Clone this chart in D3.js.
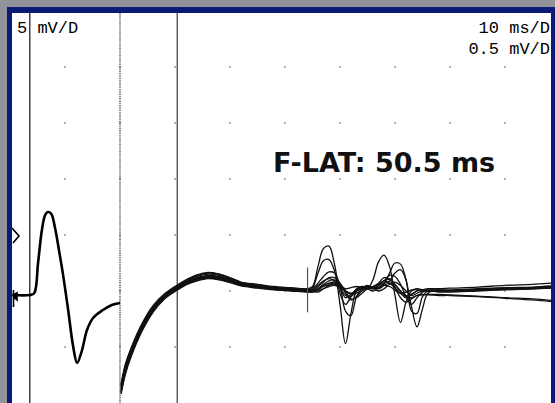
<!DOCTYPE html>
<html><head><meta charset="utf-8">
<script src="https://cdn.jsdelivr.net/npm/d3@7"></script>
<style>html,body{margin:0;padding:0;background:#929398;overflow:hidden}</style>
</head><body>
<svg id="c" width="555" height="403"></svg>
<script>
// ---------- DATA ----------
const sweepMs = [0, 100];               // 10 ms/D, 10 divisions
const gridTimes = [10, 20, 30, 40, 50, 60, 70, 80, 90];
const gridVolts = [-0.5, 0, 0.5, 1.0, 1.5, 2.0]; // 0.5 mV/D
const stimTime = 3.6;
const fLatency = 50.5;
const gainChangeTime = 20;
const cursorTime = 30.4;
const labelLeft = "5 mV/D";
const labelRight1 = "10 ms/D";
const labelRight2 = "0.5 mV/D";
const title = "F-LAT: 50.5 ms";

// CMAP (M-wave) at 5 mV/D
const cmapTimes = [0.4, 3.6, 4.4, 5.1, 5.8, 6.4, 6.9, 7.5, 8.2, 8.9, 9.6, 10.5, 11.5, 12.2, 13.1, 14.0, 15.1, 16.9, 18.5, 20.0];
const cmapValues = [-0.36, -0.36, -0.2, 2.5, 5.45, 6.8, 7.05, 6.9, 5.6, 3.65, 1.6, -1.43, -5.0, -6.43, -5.27, -3.48, -2.41, -1.7, -1.25, -1.07];

// F-wave sweeps at 0.5 mV/D
const fTimes = [20.2, 21, 22, 24, 26, 28, 30, 32, 34, 36, 38, 40, 42, 45, 48, 51, 54,
  55, 56, 57, 58, 59, 60, 61, 62, 63, 64, 65, 66, 67, 68, 69, 70, 71, 72, 73, 74, 75, 76, 78,
  80, 85, 90, 95, 98.5];
const traceA = [-0.83, -0.65, -0.51, -0.29, -0.13, -0.03, 0.04, 0.10, 0.145, 0.165, 0.15, 0.12, 0.08, 0.06, 0.04, 0.03, 0.02,
  0.04, 0.22, 0.38, 0.40, 0.24, -0.02, -0.12, -0.05, 0.02, 0.04, 0.03, 0.02, 0.03, 0.05, 0.04, 0.01, -0.02, -0.01, 0.01, 0.01, 0.0, 0.0, 0.0,
  0.0, 0.01, 0.02, 0.03, 0.04];
const traceB = [-0.85, -0.67, -0.53, -0.31, -0.15, -0.045, 0.03, 0.09, 0.13, 0.15, 0.14, 0.11, 0.07, 0.05, 0.035, 0.025, 0.015,
  0.03, 0.16, 0.27, 0.28, 0.18, -0.12, -0.47, -0.2, 0.0, 0.03, 0.05, 0.03, 0.0, 0.02, 0.06, 0.08, 0.05, 0.0, -0.04, -0.02, 0.0, 0.01, 0.01,
  0.01, 0.02, 0.03, 0.035, 0.045];
const traceC = [-0.86, -0.68, -0.54, -0.32, -0.16, -0.05, 0.02, 0.085, 0.12, 0.14, 0.13, 0.10, 0.065, 0.045, 0.03, 0.02, 0.01,
  0.02, 0.07, 0.13, 0.17, 0.16, 0.05, -0.18, -0.22, -0.05, 0.02, 0.04, 0.02, 0.05, 0.09, 0.07, 0.03, -0.02, -0.06, -0.03, 0.0, 0.01, 0.0, 0.0,
  0.0, 0.015, 0.025, 0.03, 0.035];
const traceD = [-0.88, -0.70, -0.55, -0.33, -0.165, -0.06, 0.015, 0.075, 0.11, 0.13, 0.12, 0.095, 0.06, 0.04, 0.025, 0.015, 0.005,
  0.0, 0.04, 0.08, 0.12, 0.12, 0.07, 0.0, -0.07, -0.06, -0.02, 0.02, 0.04, 0.05, 0.09, 0.14, 0.13, 0.06, -0.05, -0.12, -0.06, -0.01, 0.0, 0.0,
  0.0, 0.01, 0.02, 0.03, 0.03];
const traceE = [-0.87, -0.69, -0.545, -0.32, -0.16, -0.055, 0.02, 0.08, 0.115, 0.13, 0.125, 0.10, 0.065, 0.045, 0.03, 0.02, 0.01,
  0.0, 0.02, 0.05, 0.07, 0.08, 0.05, 0.02, 0.03, 0.04, 0.03, 0.02, 0.10, 0.26, 0.32, 0.22, -0.04, -0.28, -0.10, 0.0, 0.02, 0.01, 0.0, 0.0,
  0.0, 0.01, 0.02, 0.025, 0.03];
const traceF = [-0.89, -0.71, -0.56, -0.335, -0.17, -0.06, 0.01, 0.07, 0.105, 0.125, 0.115, 0.09, 0.06, 0.04, 0.025, 0.015, 0.005,
  0.0, 0.01, 0.04, 0.06, 0.07, 0.04, 0.0, -0.02, 0.0, 0.03, 0.04, 0.03, 0.03, 0.06, 0.16, 0.25, 0.24, 0.10, -0.14, -0.32, -0.16, -0.02, 0.01,
  0.0, 0.005, 0.015, 0.02, 0.03];
const traceG = [-0.9, -0.72, -0.57, -0.34, -0.175, -0.065, 0.005, 0.065, 0.10, 0.12, 0.11, 0.085, 0.055, 0.035, 0.02, 0.01, 0.0,
  0.0, -0.01, 0.02, 0.05, 0.06, 0.02, -0.06, -0.03, 0.01, 0.03, 0.02, 0.0, 0.03, 0.07, 0.09, 0.16, 0.19, 0.10, -0.18, -0.2, -0.05, 0.0, -0.01,
  -0.01, 0.0, 0.01, 0.02, 0.025];
const traceH = [-0.91, -0.73, -0.58, -0.35, -0.18, -0.07, 0.0, 0.06, 0.095, 0.115, 0.105, 0.08, 0.05, 0.03, 0.015, 0.005, -0.005,
  -0.01, 0.02, 0.06, 0.09, 0.10, 0.06, -0.02, -0.08, -0.05, 0.0, 0.02, 0.04, 0.07, 0.12, 0.10, 0.03, -0.06, -0.10, -0.07, -0.04, -0.03, -0.03, -0.03,
  -0.035, -0.045, -0.06, -0.07, -0.085];
const traceI = [-0.92, -0.74, -0.59, -0.36, -0.19, -0.075, -0.005, 0.055, 0.09, 0.11, 0.10, 0.075, 0.045, 0.025, 0.01, 0.0, -0.01,
  -0.01, 0.0, 0.02, 0.04, 0.05, 0.03, 0.0, -0.03, -0.02, 0.01, 0.04, 0.03, 0.02, 0.05, 0.07, 0.05, 0.0, -0.05, -0.06, -0.04, -0.035, -0.035, -0.04,
  -0.04, -0.05, -0.065, -0.08, -0.095];
const traceJ = [-0.84, -0.66, -0.52, -0.30, -0.14, -0.04, 0.035, 0.095, 0.14, 0.16, 0.15, 0.115, 0.075, 0.055, 0.035, 0.025, 0.015,
  0.01, 0.05, 0.09, 0.11, 0.09, 0.03, -0.04, -0.05, 0.0, 0.02, 0.03, 0.04, 0.06, 0.09, 0.11, 0.06, 0.0, -0.04, -0.03, 0.0, 0.01, 0.02, 0.02,
  0.025, 0.035, 0.05, 0.06, 0.07];
const fTraces = [traceA, traceB, traceC, traceD, traceE, traceF, traceG, traceH, traceI, traceJ];

// ---------- DRAW ----------
const W = 555, H = 403;
const svg = d3.select("#c");
const panel = {x0: 12, y0: 13, x1: 551, y1: 403};

svg.append("rect").attr("x", 0).attr("y", 0).attr("width", W).attr("height", H).attr("fill", "#929398");
svg.append("rect").attr("x", 7).attr("y", 7).attr("width", W - 7).attr("height", H).attr("fill", "#0b1a78");
svg.append("rect").attr("x", panel.x0).attr("y", panel.y0)
  .attr("width", panel.x1 - panel.x0).attr("height", panel.y1 - panel.y0).attr("fill", "#ffffff");

svg.append("clipPath").attr("id", "clip").append("rect")
  .attr("x", panel.x0).attr("y", panel.y0).attr("width", panel.x1 - panel.x0).attr("height", panel.y1 - panel.y0);
const g = svg.append("g").attr("clip-path", "url(#clip)");

const x = d3.scaleLinear().domain(sweepMs).range([10, 560]);
const yF = d3.scaleLinear().domain([-1.0, 2.5]).range([403, 11]);
const yC = d3.scaleLinear().domain([-10, 25]).range([403, 11]);

// grid dots
gridTimes.forEach(t => gridVolts.forEach(v => {
  g.append("rect").attr("x", x(t) - 0.75).attr("y", yF(v) - 0.75)
    .attr("width", 1.5).attr("height", 1.5).attr("fill", "#7a7a86");
}));

// vertical markers
g.append("line").attr("x1", x(stimTime)).attr("x2", x(stimTime)).attr("y1", panel.y0).attr("y2", panel.y1)
  .attr("stroke", "#111").attr("stroke-width", 1.2);
g.append("line").attr("x1", x(gainChangeTime)).attr("x2", x(gainChangeTime)).attr("y1", panel.y0).attr("y2", panel.y1)
  .attr("stroke", "#333").attr("stroke-width", 1.1).attr("stroke-dasharray", "1.5,0.8");
g.append("line").attr("x1", x(cursorTime)).attr("x2", x(cursorTime)).attr("y1", panel.y0).attr("y2", panel.y1)
  .attr("stroke", "#111").attr("stroke-width", 1);

// left-edge markers
g.append("path").attr("d", `M12,228 L19,236 L13,243`).attr("fill", "none").attr("stroke", "#000").attr("stroke-width", 1.6);
g.append("path").attr("d", `M13.5,290 L13.5,307 M13.5,295 L17,293 L17,300 L13.5,297`).attr("fill", "#000").attr("stroke", "#000").attr("stroke-width", 1.6);

// CMAP trace
const lineC = d3.line().x((d, i) => x(cmapTimes[i])).y(d => yC(d)).curve(d3.curveCatmullRom.alpha(0.5));
g.append("path").attr("d", lineC(cmapValues)).attr("fill", "none").attr("stroke", "#000")
  .attr("stroke-width", 2.6).attr("stroke-linejoin", "round");

// F sweeps
const lineF = d3.line().x((d, i) => x(fTimes[i])).y(d => yF(d)).curve(d3.curveCatmullRom.alpha(0.5));
fTraces.forEach(tr => {
  g.append("path").attr("d", lineF(tr)).attr("fill", "none").attr("stroke", "#111")
    .attr("stroke-width", 1.3).attr("stroke-linejoin", "round");
});

// F latency marker
const fx = x(stimTime + fLatency);
g.append("line").attr("x1", fx).attr("x2", fx).attr("y1", yF(0.21)).attr("y2", yF(-0.19))
  .attr("stroke", "#555").attr("stroke-width", 1.2);

// texts
const mono = "'Liberation Mono', 'DejaVu Sans Mono', monospace";
svg.append("text").attr("x", 17).attr("y", 33).attr("font-family", mono).attr("font-size", 17)
  .attr("fill", "#000").style("white-space", "pre").text(labelLeft);
svg.append("text").attr("x", 550).attr("y", 33).attr("text-anchor", "end").attr("font-family", mono).attr("font-size", 17)
  .attr("fill", "#000").style("white-space", "pre").text(labelRight1);
svg.append("text").attr("x", 550).attr("y", 54).attr("text-anchor", "end").attr("font-family", mono).attr("font-size", 17)
  .attr("fill", "#000").style("white-space", "pre").text(labelRight2);
svg.append("text").attr("x", 273).attr("y", 172).attr("font-family", "'DejaVu Sans', Verdana, sans-serif")
  .attr("font-weight", "bold").attr("font-size", 27).attr("fill", "#111").text(title);
</script>
</body></html>
